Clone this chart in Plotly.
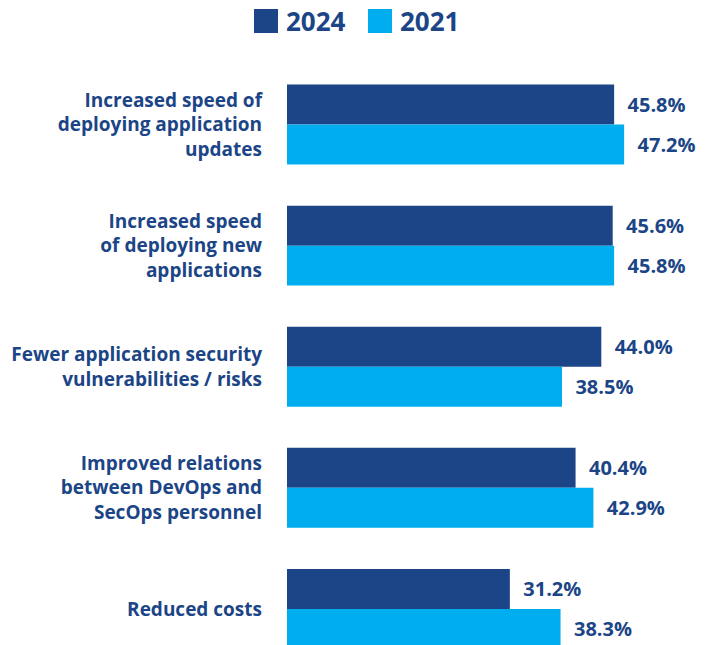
import plotly.graph_objects as go

# benefit categories (top to bottom)
categories = [
    "Increased speed of<br>deploying application<br>updates",
    "Increased speed<br>of deploying new<br>applications",
    "Fewer application security<br>vulnerabilities / risks",
    "Improved relations<br>between DevOps and<br>SecOps personnel",
    "Reduced costs",
]
values_2024 = [45.8, 45.6, 44.0, 40.4, 31.2]
values_2021 = [47.2, 45.8, 38.5, 42.9, 38.3]
series_names = ["2024", "2021"]

dark_blue = "#1b4586"
light_blue = "#00aeef"
font_family = "Open Sans"

fig = go.Figure()

for name, vals, color in [(series_names[0], values_2024, dark_blue),
                          (series_names[1], values_2021, light_blue)]:
    fig.add_trace(go.Bar(
        y=categories, x=vals, name=name, orientation="h",
        marker=dict(color=color, line=dict(width=0)),
        texttemplate="\u00a0\u00a0%{x:.1f}%",
        textposition="outside",
        constraintext="none",
        textfont=dict(family=font_family, size=20, color=dark_blue, weight="bold"),
        showlegend=False,
    ))

# home-made legend: big squares + labels at the top
W = 712 - 287
H = 645 - 64
def px_x(p):
    return (p - 287) / W
def px_y(p):
    return 1 + (64 - p) / H

shapes = []
annotations = []
legend_x = [254, 368]
for i, (name, color) in enumerate(zip(series_names, [dark_blue, light_blue])):
    x0 = legend_x[i]
    shapes.append(dict(type="rect", xref="paper", yref="paper",
                       x0=px_x(x0), x1=px_x(x0 + 24), y0=px_y(33), y1=px_y(9),
                       fillcolor=color, line=dict(width=0)))
    annotations.append(dict(xref="paper", yref="paper", x=px_x(x0 + 30), y=px_y(21),
                            xanchor="left", yanchor="middle", showarrow=False,
                            text=name,
                            font=dict(family=font_family, size=26, color=dark_blue,
                                      weight="bold")))

fig.update_layout(
    width=712, height=645,
    margin=dict(l=287, r=0, t=64, b=0),
    barmode="group",
    bargap=0.34,
    bargroupgap=0,
    plot_bgcolor="white",
    paper_bgcolor="white",
    shapes=shapes,
    annotations=annotations,
    xaxis=dict(range=[0, 59.5], visible=False),
    yaxis=dict(
        type="category",
        categoryorder="array", categoryarray=categories,
        range=[4.298, -0.5],
        showgrid=False, zeroline=False, showline=False,
        ticks="", ticklabelstandoff=24,
        tickfont=dict(family=font_family, size=19, color=dark_blue, weight="bold"),
    ),
)

# drop the default page margin so the figure sits at the window's corner
fig.write_html("out.html", config={"displayModeBar": False},
               post_script="document.body.style.margin='0';")
